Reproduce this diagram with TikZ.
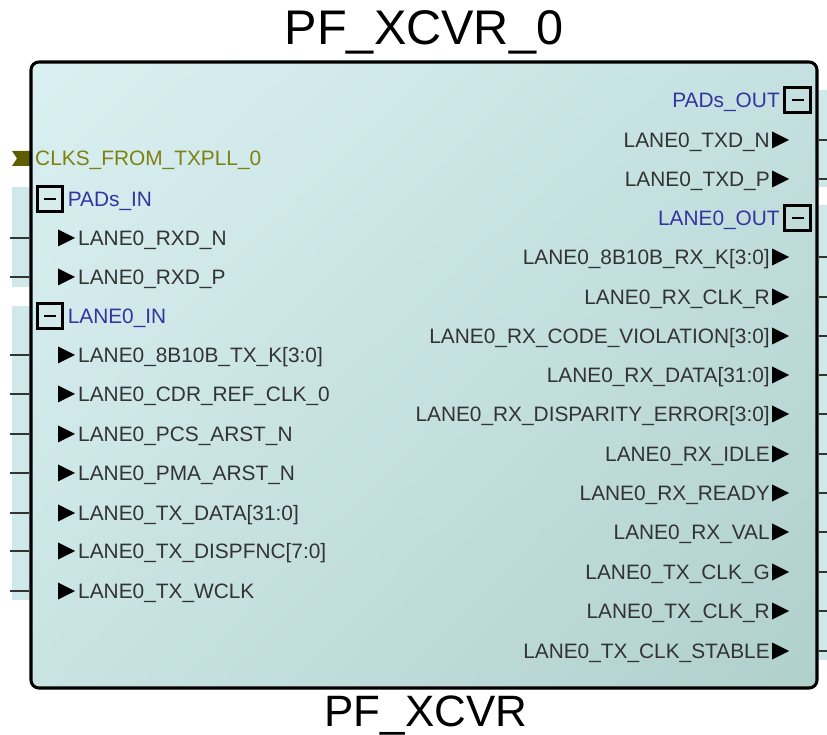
\documentclass[tikz,border=0pt]{standalone}
\usepackage{fontspec}
\setmainfont{Liberation Sans}
\usepackage{xcolor}
\usepackage{tikz}
\usetikzlibrary{positioning, shadings}

\definecolor{pintext}{HTML}{333333}
\definecolor{grpblue}{HTML}{3434A0}
\definecolor{clkolive}{HTML}{808010}
\definecolor{busolive}{HTML}{5E5E00}
\definecolor{stripteal}{HTML}{CFE8EA}
\definecolor{fillul}{HTML}{DAF0F2}
\definecolor{fillur}{HTML}{C4E0E0}
\definecolor{fillll}{HTML}{C9E3E3}
\definecolor{filllr}{HTML}{B0D0CC}

\begin{document}
\begin{tikzpicture}[
			x=0.03cm, y=-0.03cm,
			xcvrbox/.style={
				draw,
				line width=2.6pt,
				rounded corners=0.24cm,
				inner sep=0pt,
				minimum width=23.58cm,
				minimum height=18.78cm,
				upper left=fillul, upper right=fillur,
				lower left=fillll, lower right=filllr
			},
			title/.style={font=\fontsize{41.5}{44}\selectfont, anchor=base},
			pinin/.style={
				anchor=west, inner sep=0pt,
				text height=12.8pt, text depth=0pt,
				font=\fontsize{17.8}{20}\selectfont, text=pintext
			},
			pinout/.style={pinin, anchor=east},
			grp/.style={pinin, text=grpblue},
			minusbox/.style={draw, line width=2.6pt, inner sep=0pt, minimum size=0.76cm},
			stub/.style={draw=pintext, line width=1pt}
			]
			\useasboundingbox (0,0) rectangle (827,735);
			
			% outside strips of the pin groups
			\fill[stripteal] (12,187) rectangle (31,287);
			\fill[stripteal] (12,306) rectangle (31,600);
			\fill[stripteal] (817,90) rectangle (827,187);
			\fill[stripteal] (817,205) rectangle (827,660);
			
			% bus port
			\fill[busolive] (12,151) -- (31,151) -- (31,166) -- (12,166) -- (17,158.5) -- cycle;
			
			\node[xcvrbox] (xcvr) at (424,375) {};
			\node[title] (inst) at (424,45) {PF\_XCVR\_0};
			\node[title, font=\fontsize{37.5}{40}\selectfont] (core) at (426,726.5) {PF\_XCVR};
			
			% left side
			\node[pinin, text=clkolive] (clks) at (35,158) {CLKS\_FROM\_TXPLL\_0};
			\node[minusbox] (padsinbox) at (50,199) {};
			\node[grp, right=0.1cm of padsinbox] (padsin) {PADs\_IN};
			\node[pinin] (rxdn) at (78,238) {LANE0\_RXD\_N};
			\node[pinin] (rxdp) at (78,277) {LANE0\_RXD\_P};
			\node[minusbox] (laneinbox) at (50,316) {};
			\node[grp, right=0.1cm of laneinbox] (lanein) {LANE0\_IN};
			\node[pinin] (txk) at (78,355) {LANE0\_8B10B\_TX\_K[3:0]};
			\node[pinin] (cdrclk) at (78,394) {LANE0\_CDR\_REF\_CLK\_0};
			\node[pinin] (pcsarst) at (78,434) {LANE0\_PCS\_ARST\_N};
			\node[pinin] (pmaarst) at (78,473) {LANE0\_PMA\_ARST\_N};
			\node[pinin] (txdata) at (78,513) {LANE0\_TX\_DATA[31:0]};
			\node[pinin] (txdisp) at (78,551) {LANE0\_TX\_DISPFNC[7:0]};
			\node[pinin] (txwclk) at (78,591) {LANE0\_TX\_WCLK};
			
			% right side
			\node[minusbox] (padsoutbox) at (797.5,100) {};
			\node[grp, anchor=east, left=0.1cm of padsoutbox] (padsout) {PADs\_OUT};
			\node[pinout] (txdn) at (770,140) {LANE0\_TXD\_N};
			\node[pinout] (txdp) at (770,179) {LANE0\_TXD\_P};
			\node[minusbox] (laneoutbox) at (797.5,218) {};
			\node[grp, anchor=east, left=0.1cm of laneoutbox] (laneout) {LANE0\_OUT};
			\node[pinout] (rxk) at (770,257) {LANE0\_8B10B\_RX\_K[3:0]};
			\node[pinout] (rxclkr) at (770,297) {LANE0\_RX\_CLK\_R};
			\node[pinout] (rxcv) at (770,336) {LANE0\_RX\_CODE\_VIOLATION[3:0]};
			\node[pinout] (rxdata) at (770,375) {LANE0\_RX\_DATA[31:0]};
			\node[pinout] (rxdisp) at (770,414) {LANE0\_RX\_DISPARITY\_ERROR[3:0]};
			\node[pinout] (rxidle) at (770,454) {LANE0\_RX\_IDLE};
			\node[pinout] (rxready) at (770,493) {LANE0\_RX\_READY};
			\node[pinout] (rxval) at (770,532) {LANE0\_RX\_VAL};
			\node[pinout] (txclkg) at (770,572) {LANE0\_TX\_CLK\_G};
			\node[pinout] (txclkr) at (770,611) {LANE0\_TX\_CLK\_R};
			\node[pinout] (txclkstable) at (770,651) {LANE0\_TX\_CLK\_STABLE};
			
			% minus signs
			\foreach \b in {padsinbox, laneinbox, padsoutbox, laneoutbox}
				\draw[line width=2.4pt] (\b.center) ++(-6,0) -- ++(12,0);
			
			% pin arrows and stubs
			\foreach \p in {rxdn, rxdp, txk, cdrclk, pcsarst, pmaarst, txdata, txdisp, txwclk} {
				\fill (\p.west) ++(-3,0) -- ++(-17,-8.5) -- ++(0,17) -- cycle;
				\draw[stub] (\p.west -| xcvr.west) -- ++(-19,0);
			}
			\foreach \p in {txdn, txdp, rxk, rxclkr, rxcv, rxdata, rxdisp, rxidle, rxready, rxval, txclkg, txclkr, txclkstable} {
				\fill (\p.east) ++(2,-8.5) -- ++(0,17) -- ++(17,-8.5) -- cycle;
				\draw[stub] (\p.east -| xcvr.east) -- ++(10,0);
			}
		\end{tikzpicture}
\end{document}
